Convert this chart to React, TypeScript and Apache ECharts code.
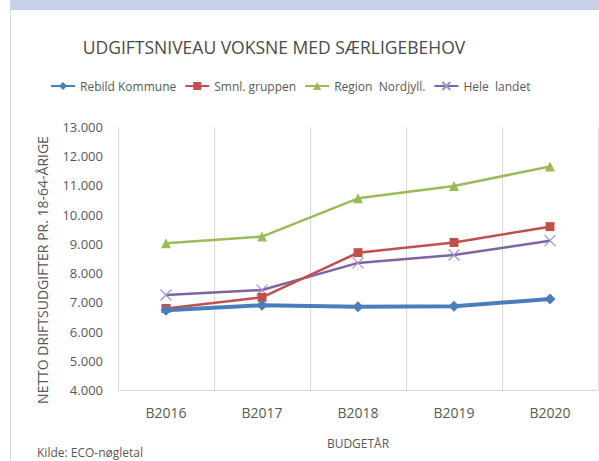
import React, { useEffect, useRef } from "react";
import * as echarts from "echarts";

const categories = ["B2016", "B2017", "B2018", "B2019", "B2020"];
const rebild = [6730, 6900, 6850, 6870, 7110];
const smnl = [6790, 7170, 8700, 9050, 9590];
const region = [9020, 9250, 10560, 10980, 11650];
const heleLandet = [7250, 7420, 8350, 8620, 9110];
const yTicks = { min: 4000, max: 13000, interval: 1000 };

const FONT = "'Open Sans', 'Noto Sans', sans-serif";
const TXT = "#595959";
const CROSS = "path://M0,0L10,10M10,0L0,10";

export default function App() {
  const ref = useRef<HTMLDivElement>(null);
  useEffect(() => {
    if (!ref.current) return;
    const chart = echarts.init(ref.current, undefined, { renderer: "svg" });
    const fmt = (v: number) => {
      const s = String(Math.round(v));
      return s.replace(/\B(?=(\d{3})+(?!\d))/g, ".");
    };
    chart.setOption({
      animation: false,
      backgroundColor: "#ffffff",
      textStyle: { fontFamily: FONT },
      graphic: [
        { type: "rect", shape: { x: 10, y: 0, width: 589, height: 10 }, style: { fill: "#c6d1e9" }, silent: true },
        { type: "line", shape: { x1: 10.5, y1: 10, x2: 10.5, y2: 461 }, style: { stroke: "#d9d9d9", lineWidth: 1 }, silent: true },
        {
          type: "text",
          x: 42,
          y: 270,
          rotation: Math.PI / 2,
          style: {
            text: "NETTO DRIFTSUDGIFTER PR. 18-64-ÅRIGE",
            fill: TXT,
            font: `14px ${FONT}`,
            align: "center",
            verticalAlign: "middle",
          },
        },
        {
          type: "text",
          x: 37,
          y: 452,
          style: { text: "Kilde: ECO-nøgletal", fill: TXT, font: `12px ${FONT}`, align: "left", verticalAlign: "middle" },
        },
      ],
      title: {
        text: "UDGIFTSNIVEAU VOKSNE MED SÆRLIGEBEHOV",
        left: 269,
        textAlign: "center",
        top: 33,
        textStyle: { fontFamily: FONT, fontSize: 17.5, fontWeight: "normal", color: "#4a4a4a" },
      },
      legend: {
        top: 75,
        left: 45,
        itemWidth: 24,
        itemHeight: 10,
        itemGap: 8,
        textStyle: { fontFamily: FONT, fontSize: 12, color: TXT },
        data: ["Rebild Kommune", "Smnl. gruppen", "Region  Nordjyll.", "Hele  landet"],
      },
      grid: { left: 118, right: 1, top: 127, bottom: 71, containLabel: false },
      xAxis: {
        type: "category",
        data: categories,
        boundaryGap: true,
        name: "BUDGETÅR",
        nameLocation: "middle",
        nameGap: 47,
        nameTextStyle: { fontFamily: FONT, fontSize: 12, color: TXT },
        axisLine: { lineStyle: { color: "#d9d9d9" } },
        axisTick: { show: false },
        axisLabel: { fontFamily: FONT, fontSize: 14, color: TXT, margin: 15 },
        splitLine: { show: true, lineStyle: { color: "#d9d9d9" } },
      },
      yAxis: {
        type: "value",
        min: yTicks.min,
        max: yTicks.max,
        interval: yTicks.interval,
        axisLine: { show: false },
        axisTick: { show: false },
        splitLine: { show: false },
        axisLabel: { fontFamily: FONT, fontSize: 13, color: TXT, margin: 15, formatter: fmt },
      },
      series: [
        {
          name: "Rebild Kommune",
          type: "line",
          data: rebild,
          symbol: "diamond",
          symbolSize: 11,
          lineStyle: { color: "#4a7ebb", width: 4 },
          itemStyle: { color: "#4a7ebb" },
          z: 5,
        },
        {
          name: "Smnl. gruppen",
          type: "line",
          data: smnl,
          symbol: "rect",
          symbolSize: 9,
          lineStyle: { color: "#c0504d", width: 2.5 },
          itemStyle: { color: "#c0504d" },
          z: 4,
        },
        {
          name: "Region  Nordjyll.",
          type: "line",
          data: region,
          symbol: "triangle",
          symbolSize: 10,
          lineStyle: { color: "#9bbb59", width: 2.5 },
          itemStyle: { color: "#9bbb59" },
          z: 3,
        },
        {
          name: "Hele  landet",
          type: "line",
          data: heleLandet,
          symbol: CROSS,
          symbolSize: 11,
          lineStyle: { color: "#8064a2", width: 2.5 },
          itemStyle: { color: "#8064a2", borderColor: "#a090c8", borderWidth: 1.2 },
          z: 2,
        },
      ],
    });
    return () => chart.dispose();
  }, []);
  return (
    <div
      ref={ref}
      style={{ position: "fixed", left: 0, top: 0, width: 599, height: 461 }}
    />
  );
}
